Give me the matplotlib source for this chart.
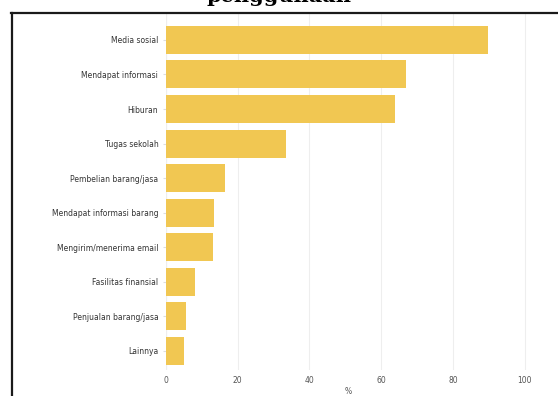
import matplotlib.pyplot as plt
from matplotlib.lines import Line2D

# data
kategori = ['Media sosial', 'Mendapat informasi', 'Hiburan', 'Tugas sekolah',
            'Pembelian barang/jasa', 'Mendapat informasi barang',
            'Mengirim/menerima email', 'Fasilitas finansial',
            'Penjualan barang/jasa', 'Lainnya']
persen = [89.8, 66.8, 63.8, 33.4, 16.5, 13.4, 13.1, 8.1, 5.6, 5.0]
ticks_x = [0, 20, 40, 60, 80, 100]

fig = plt.figure(figsize=(5.58, 3.96), dpi=100)
ax = fig.add_axes([166 / 558, 26 / 396, 364 / 558, 356 / 396])

pos = list(range(len(kategori)))
ax.barh(pos, persen, height=0.81, color='#F1C752', zorder=2)
ax.set_yticks(pos)
ax.set_yticklabels(kategori, fontsize=5.5, color='#333333')
ax.set_ylim(9.55, -0.75)
ax.set_xlim(0, 101.5)
ax.set_xticks(ticks_x)
ax.set_xticklabels([str(t) for t in ticks_x], fontsize=5.5, color='#555555')
ax.set_xlabel('%', fontsize=5.5, color='#555555', labelpad=2)
ax.grid(axis='x', color='#eeeeee', linewidth=0.8, zorder=0)
for s in ax.spines.values():
    s.set_visible(False)
ax.axvline(0, color='#e6e6e6', linewidth=0.8, zorder=1)
ax.tick_params(axis='y', length=2.5, color='#dddddd', pad=3)
ax.tick_params(axis='x', length=0, pad=4)

# judul terpotong dan bingkai dokumen
fig.text(0.5, 1 - 1.5 / 396, 'penggunaan', ha='center', va='baseline',
         fontsize=15, fontweight='bold', family='DejaVu Serif')
fig.add_artist(Line2D([11.5 / 558, 11.5 / 558], [0, 1 - 12.5 / 396],
                      transform=fig.transFigure, color='#1a1a1a', linewidth=1.6))
fig.add_artist(Line2D([11 / 558, 1], [1 - 12.5 / 396, 1 - 12.5 / 396],
                      transform=fig.transFigure, color='#1a1a1a', linewidth=1.6))

fig.savefig('out.png', dpi=100)
